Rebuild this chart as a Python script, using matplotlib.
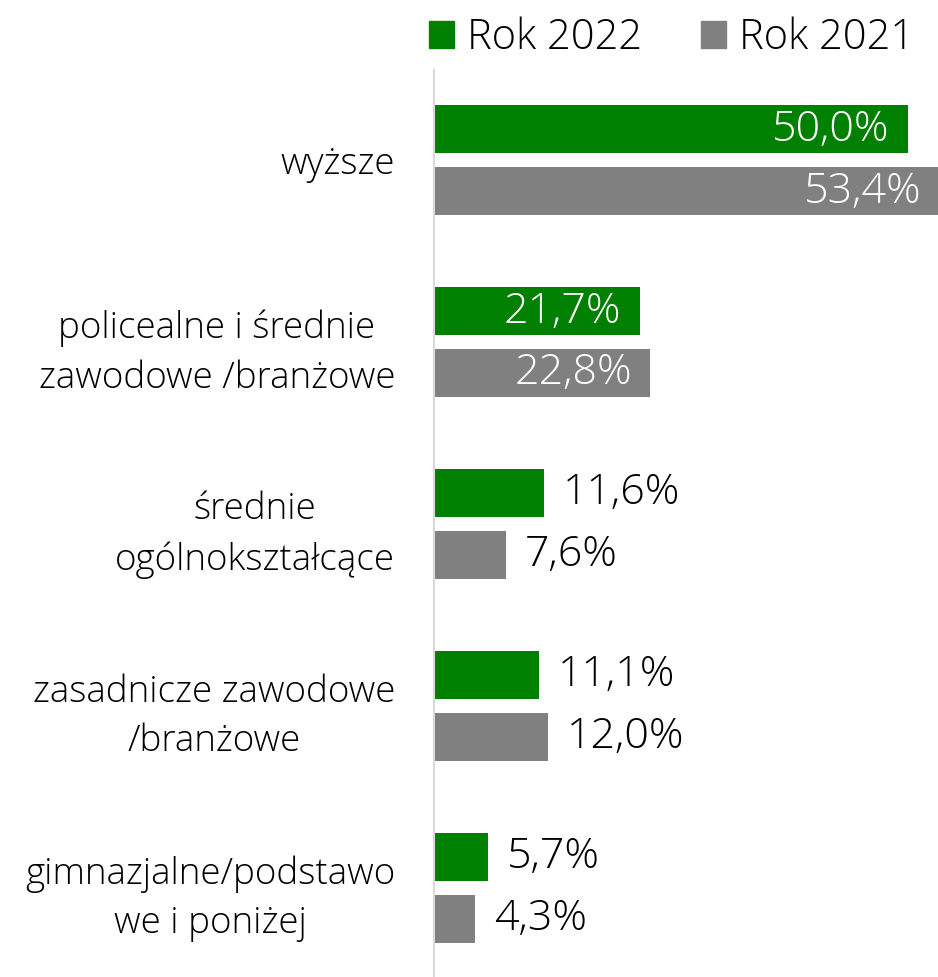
import numpy as np
import matplotlib.pyplot as plt
from matplotlib.patches import Patch

# data
categories = ['wyższe', 'policealne i średnie\nzawodowe /branżowe', 'średnie\nogólnokształcące',
              'zasadnicze zawodowe\n/branżowe', 'gimnazjalne/podstawo\nwe i poniżej']
rok_2022 = [50.0, 21.7, 11.6, 11.1, 5.7]
rok_2021 = [53.4, 22.8, 7.6, 12.0, 4.3]
inside = [True, True, False, False, False]

green = '#008000'
grey = '#808080'
plt.rcParams['font.family'] = ['Open Sans', 'DejaVu Sans']
plt.rcParams['font.weight'] = 'light'

fig = plt.figure(figsize=(9.38, 9.77), dpi=100)
ax = fig.add_axes([0.4627, 0.0, 0.5373, 0.928])

y = np.arange(len(categories))
h = 0.264
off = 0.17
ax.barh(y - off, rok_2022, height=h, color=green)
ax.barh(y + off, rok_2021, height=h, color=grey)

def fmt(v):
    return f'{v:.1f}%'.replace('.', ',')

for i in range(len(categories)):
    for val, yy in [(rok_2022[i], y[i] - off), (rok_2021[i], y[i] + off)]:
        if inside[i]:
            ax.text(val - 1.9, yy, fmt(val), ha='right', va='center', color='white', fontsize=31)
        else:
            ax.text(val + 2.0, yy, fmt(val), ha='left', va='center', color='black', fontsize=31)

ax.set_xlim(0, 53.2)
ax.set_ylim(4.49, -0.495)
ax.set_yticks(y)
ax.set_yticklabels(categories, fontsize=26.5, linespacing=1.45)
ax.tick_params(axis='y', length=0, pad=28)
for lbl in ax.get_yticklabels():
    lbl.set_horizontalalignment('right')
    lbl.set_multialignment('center')
ax.set_xticks([])
for s in ['top', 'right', 'bottom']:
    ax.spines[s].set_visible(False)
ax.spines['left'].set_color('#d9d9d9')
ax.spines['left'].set_linewidth(1.5)

handles = [Patch(color=green, label='Rok 2022'), Patch(color=grey, label='Rok 2021')]
fig.legend(handles=handles, loc='upper right', bbox_to_anchor=(0.9925, 1.0), ncol=2, frameon=False,
           fontsize=30, handlelength=0.6, handleheight=0.6, handletextpad=0.32, columnspacing=1.4,
           borderaxespad=0)

fig.savefig('out.png', dpi=100)
